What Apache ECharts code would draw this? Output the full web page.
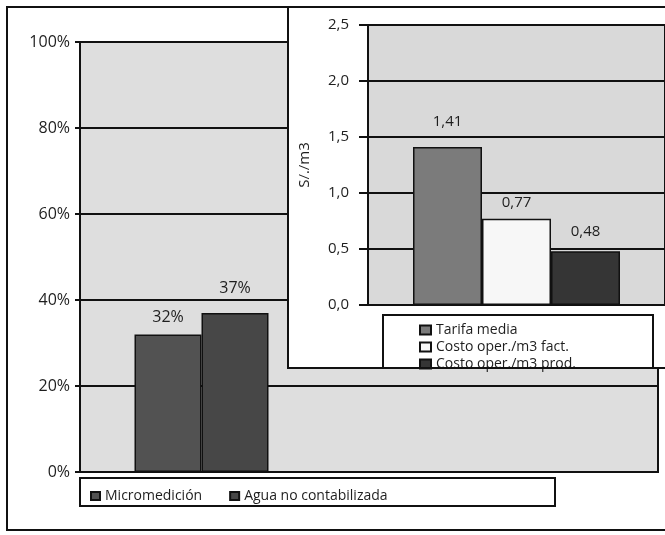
<!DOCTYPE html>
<html><head><meta charset="utf-8">
<script src="https://cdn.jsdelivr.net/npm/echarts@6/dist/echarts.min.js"></script>
<style>html,body{margin:0;padding:0;background:#fff}#c{width:665px;height:535px}</style>
</head><body><div id="c"></div>
<script>
// ---- data ----
const mainCategories = ['Indicadores'];
const mainSeriesNames = ['Micromedición', 'Agua no contabilizada'];
const mainValues = [32, 37];
const insetCategories = ['Costos'];
const insetSeriesNames = ['Tarifa media', 'Costo oper./m3 fact.', 'Costo oper./m3 prod.'];
const insetValues = [1.41, 0.77, 0.48];
const insetAxisName = 'S/./m3';

// ---- styles ----
const FONT = '"Open Sans", sans-serif';
const TXT = '#1e1e1e';
const LINE = '#111';
const mainColors = ['#525252', '#474747'];
const mainDist = [9, 16];
const insetColors = ['#7b7b7b', '#f7f7f7', '#353535'];
const insetDist = [18, 9, 12];
const comma = (v, d) => Number(v).toFixed(d).replace('.', ',');

const chart = echarts.init(document.getElementById('c'), null, {renderer: 'canvas'});

const series = [];
mainSeriesNames.forEach((n, i) => {
  series.push({
    type: 'bar', name: n, xAxisIndex: 1, yAxisIndex: 1,
    data: [mainValues[i]], barWidth: 67, barGap: '0%',
    itemStyle: {color: mainColors[i], borderColor: LINE, borderWidth: 1.5},
    label: {show: true, position: 'top', distance: mainDist[i], formatter: '{c}%',
      fontSize: 16, color: TXT, fontFamily: FONT},
    z: 2
  });
});
insetSeriesNames.forEach((n, i) => {
  series.push({
    type: 'bar', name: n, xAxisIndex: 2, yAxisIndex: 2,
    data: [insetValues[i]], barWidth: 69, barGap: '0%',
    itemStyle: {color: insetColors[i], borderColor: LINE, borderWidth: 1.5},
    label: {show: true, position: 'top', distance: insetDist[i],
      formatter: p => comma(p.value, 2), fontSize: 15, color: TXT, fontFamily: FONT},
    z: 8
  });
});

const option = {
  animation: false,
  backgroundColor: '#fff',
  grid: [
    {left: 80, top: 42, width: 578, height: 430, show: true, backgroundColor: '#dedede',
      borderColor: LINE, borderWidth: 2, z: 0},
    {left: 80, top: 42, width: 243, height: 430, z: 0},
    {left: 368, top: 25, width: 306, height: 280, show: true, backgroundColor: '#d9d9d9',
      borderColor: LINE, borderWidth: 2, z: 6}
  ],
  xAxis: [
    {gridIndex: 0, type: 'category', data: mainCategories, show: false},
    {gridIndex: 1, type: 'category', data: mainCategories, show: false},
    {gridIndex: 2, type: 'category', data: insetCategories, show: false, z: 7}
  ],
  yAxis: [
    {gridIndex: 0, type: 'value', min: 0, max: 100, interval: 20, z: 1,
      axisLine: {show: true, lineStyle: {color: LINE, width: 2}},
      axisTick: {show: true, length: 5, lineStyle: {color: LINE, width: 2}},
      axisLabel: {formatter: '{value}%', color: TXT, fontSize: 16, fontFamily: FONT, margin: 10},
      splitLine: {show: true, lineStyle: {color: LINE, width: 2}}},
    {gridIndex: 1, type: 'value', min: 0, max: 100, show: false},
    {gridIndex: 2, type: 'value', min: 0, max: 2.5, interval: 0.5, z: 7,
      name: insetAxisName, nameLocation: 'middle', nameGap: 56,
      nameTextStyle: {color: TXT, fontSize: 15, fontFamily: FONT},
      axisLine: {show: true, lineStyle: {color: LINE, width: 2}},
      axisTick: {show: true, length: 9, lineStyle: {color: LINE, width: 2}},
      axisLabel: {formatter: v => comma(v, 1), color: TXT, fontSize: 15, fontFamily: FONT, margin: 19},
      splitLine: {show: true, lineStyle: {color: LINE, width: 2}}}
  ],
  legend: [
    {data: mainSeriesNames, left: 85, top: 484, icon: 'rect', itemWidth: 9, itemHeight: 8,
      itemGap: 27, z: 4, textStyle: {color: TXT, fontSize: 14, fontFamily: FONT}},
    {data: insetSeriesNames, orient: 'vertical', left: 414, top: 318, icon: 'rect',
      itemWidth: 11, itemHeight: 9, itemGap: 3, z: 10,
      textStyle: {color: TXT, fontSize: 14, fontFamily: FONT}}
  ],
  graphic: [
    {type: 'rect', z: 3, silent: true, shape: {x: 80, y: 478, width: 475, height: 28},
      style: {fill: '#fff', stroke: LINE, lineWidth: 2}},
    {type: 'rect', z: 5, silent: true, shape: {x: 288, y: 7, width: 400, height: 361},
      style: {fill: '#fff', stroke: LINE, lineWidth: 2}},
    {type: 'rect', z: 9, silent: true, shape: {x: 383, y: 315, width: 270, height: 53},
      style: {fill: '#fff', stroke: LINE, lineWidth: 2}},
    {type: 'line', z: 11, silent: true, shape: {x1: 288, y1: 368, x2: 665, y2: 368},
      style: {stroke: LINE, lineWidth: 2}},
    {type: 'rect', z: 20, silent: true, shape: {x: 7, y: 7, width: 670, height: 523},
      style: {fill: 'none', stroke: LINE, lineWidth: 2}}
  ],
  series: series
};
chart.setOption(option);
</script>
</body></html>
